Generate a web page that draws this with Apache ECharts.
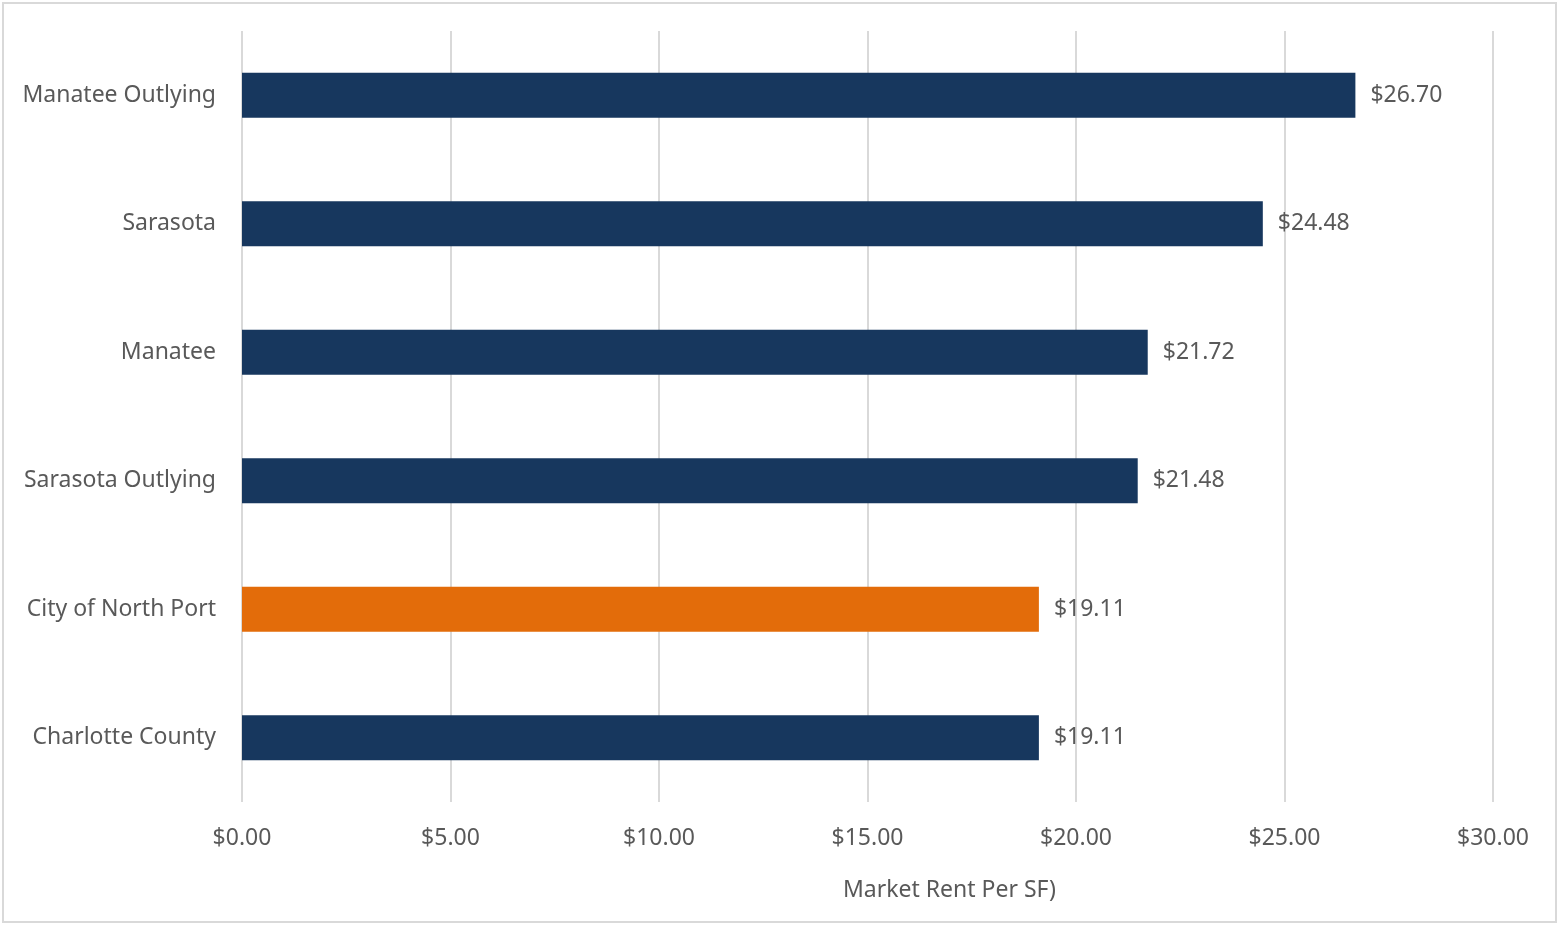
<!DOCTYPE html>
<html>
<head>
<meta charset="utf-8">
<script src="https://cdn.jsdelivr.net/npm/echarts@6/dist/echarts.min.js"></script>
<style>
  html, body { margin: 0; padding: 0; background: #fff; }
  #main { width: 1560px; height: 925px; }
</style>
</head>
<body>
<div id="main"></div>
<script>
// data
var categories = ['Manatee Outlying', 'Sarasota', 'Manatee', 'Sarasota Outlying', 'City of North Port', 'Charlotte County'];
var rents = [26.70, 24.48, 21.72, 21.48, 19.11, 19.11];
var highlight = 'City of North Port';
var axisTicks = [0, 5, 10, 15, 20, 25, 30];

var navy = '#17375e';
var orange = '#e36c0a';
var textColor = '#595959';
var font = '"Noto Sans", "Open Sans", sans-serif';

var chart = echarts.init(document.getElementById('main'));

var option = {
  backgroundColor: '#fff',
  animation: false,
  grid: { left: 242, right: 67, top: 31, bottom: 123 },
  xAxis: {
    type: 'value',
    min: axisTicks[0],
    max: axisTicks[axisTicks.length - 1],
    interval: 5,
    axisLine: { show: false },
    axisTick: { show: false },
    splitLine: { show: true, lineStyle: { color: '#d9d9d9', width: 2 } },
    axisLabel: {
      color: textColor,
      fontFamily: font,
      fontSize: 23,
      margin: 25,
      formatter: function (v) { return '$' + v.toFixed(2); }
    }
  },
  yAxis: {
    type: 'category',
    inverse: true,
    data: categories,
    axisLine: { show: false },
    axisTick: { show: false },
    axisLabel: {
      color: textColor,
      fontFamily: font,
      fontSize: 23,
      margin: 26
    }
  },
  series: [{
    type: 'bar',
    barWidth: '35%',
    data: rents.map(function (v, i) {
      return {
        value: v,
        itemStyle: { color: categories[i] === highlight ? orange : navy }
      };
    }),
    label: {
      show: true,
      position: 'right',
      distance: 15,
      color: textColor,
      fontFamily: font,
      fontSize: 23,
      formatter: function (p) { return '$' + p.value.toFixed(2); }
    }
  }],
  graphic: [
    {
      type: 'rect',
      shape: { x: 3, y: 3, width: 1553, height: 919 },
      style: { fill: 'none', stroke: '#d9d9d9', lineWidth: 2 },
      silent: true
    },
    {
      type: 'text',
      left: 843,
      top: 879,
      style: {
        text: 'Market Rent Per SF)',
        fill: textColor,
        font: '23px ' + font
      }
    }
  ]
};

chart.setOption(option);
</script>
</body>
</html>
